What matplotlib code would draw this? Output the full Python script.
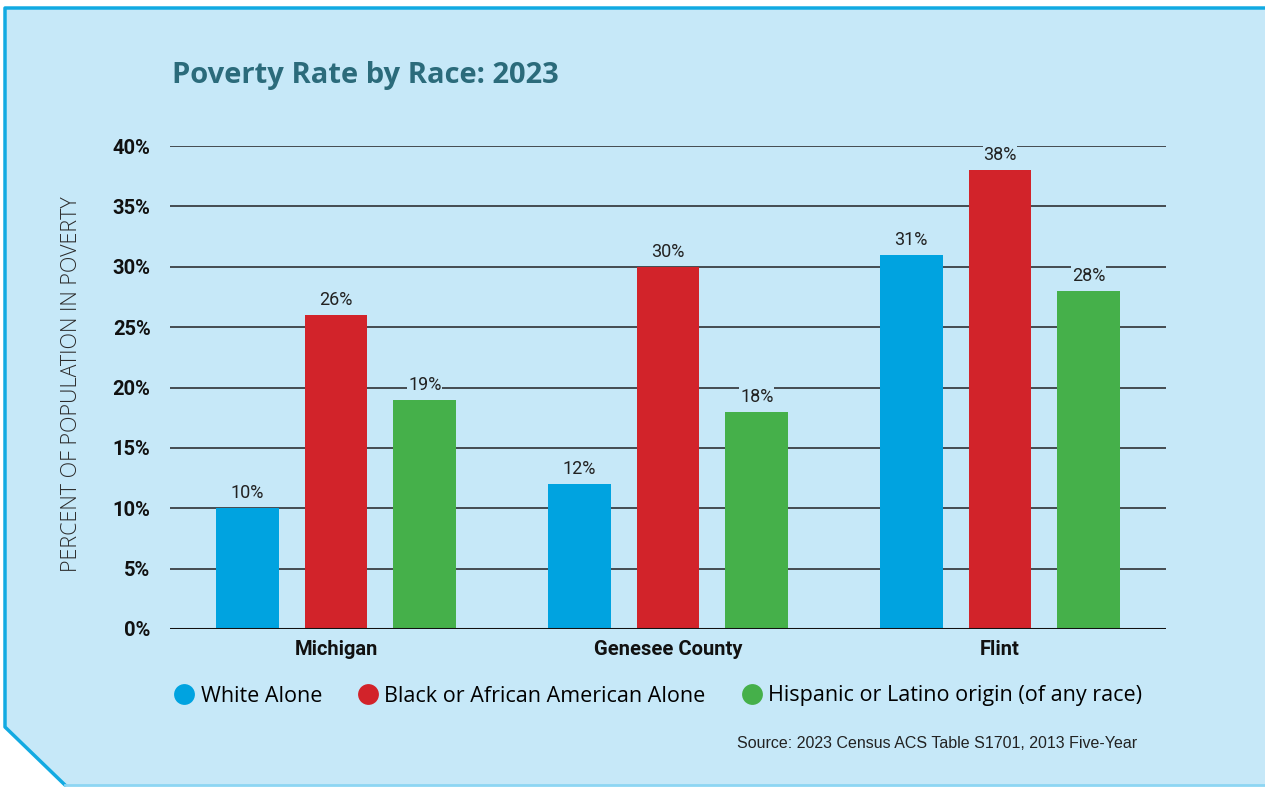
import matplotlib
matplotlib.use("Agg")
from matplotlib import pyplot as plt
from matplotlib.patches import Polygon
from matplotlib.lines import Line2D
import numpy as np

places = ["Michigan", "Genesee County", "Flint"]
races = ["White Alone", "Black or African American Alone",
         "Hispanic or Latino origin (of any race)"]
white = [10, 12, 31]
black = [26, 30, 38]
hispanic = [19, 18, 28]
yticks = [0, 5, 10, 15, 20, 25, 30, 35, 40]

colors = ["#00A3E0", "#D2232A", "#45B04A"]
panel_bg = "#C6E8F8"
cond = ["Roboto", "DejaVu Sans"]

W, H = 1265, 787
fig = plt.figure(figsize=(W / 100, H / 100), dpi=100)
fig.patch.set_facecolor("white")


def px(x, y):
    return (x / W, 1 - y / H)


# panel with chamfered bottom-left corner
pts = [px(5, 8), px(1270, 8), px(1270, 785), px(65, 785), px(5, 727)]
fig.patches.append(Polygon(pts, closed=True, transform=fig.transFigure,
                           facecolor=panel_bg, edgecolor="none", zorder=-5))
edge = [px(1270, 8), px(5, 8), px(5, 727), px(65, 785)]
fig.lines.append(Line2D([p[0] for p in edge], [p[1] for p in edge],
                        transform=fig.transFigure, color="#12AAE2", lw=2.5,
                        zorder=-4))
fig.lines.append(Line2D([px(65, 785)[0], 1], [px(65, 785)[1]] * 2,
                        transform=fig.transFigure, color="#8DD6F3", lw=2,
                        zorder=-4))

ax = fig.add_axes([170 / W, 1 - 629 / H, (1166 - 170) / W, (629 - 146) / H])
ax.set_facecolor("none")
ax.set_zorder(2)

x = np.arange(len(places))
off = 89 / 332.5
width = 63 / 332.5
series = [white, black, hispanic]
for i, vals in enumerate(series):
    xs = x + (i - 1) * off
    ax.bar(xs, vals, width=width, color=colors[i], zorder=2)
    for xx, v in zip(xs, vals):
        ax.text(xx, v + 0.5, f"{v}%", ha="center", va="bottom",
                fontsize=13, family=cond, color="#222222", zorder=4,
                bbox=dict(facecolor=panel_bg, edgecolor="none", pad=0.5))

ax.set_xlim(-0.5, 2.5)
ax.set_ylim(0, 40)
ax.set_yticks(yticks)
ax.set_yticklabels([f"{t}%" for t in yticks], family=cond,
                   fontweight="bold", fontsize=14.5, color="#111111")
for t in yticks[1:]:
    ax.axhline(t, color="#3a3f44", lw=1.3, zorder=1)
ax.axhline(0, color="#111111", lw=2.2, zorder=3)
ax.tick_params(axis="y", length=0, pad=14)
ax.tick_params(axis="x", length=0, pad=8)
ax.set_xticks(x)
ax.set_xticklabels(places, family=cond, fontweight="bold", fontsize=14.5,
                   color="#111111")
for s in ax.spines.values():
    s.set_visible(False)

fig.text(72 / W, 1 - 384 / H, "PERCENT OF POPULATION IN POVERTY",
         rotation=90, ha="center", va="center", fontsize=15.5,
         family="Open Sans", color="#2b2b2b", fontweight="light")

fig.text(172 / W, 1 - 75 / H, "Poverty Rate by Race: 2023", ha="left",
         va="center", fontsize=21, family="Open Sans", fontweight="bold",
         color="#2B6B7B")

# legend
handles = [Line2D([], [], marker="o", ls="none", markersize=15,
                  markerfacecolor=c, markeredgecolor="none") for c in colors]
fig.legend(handles, races, loc="center left",
           bbox_to_anchor=(150 / W, 1 - 696 / H), ncol=3, frameon=False,
           prop={"family": "Open Sans", "size": 15.5}, handletextpad=0.05,
           columnspacing=1.45, handlelength=1.4)

fig.text(1137 / W, 1 - 744 / H,
         "Source: 2023 Census ACS Table S1701, 2013 Five-Year",
         ha="right", va="center", fontsize=11.5, family="Liberation Sans",
         color="#222222")

fig.savefig("out.png", dpi=100, facecolor=fig.get_facecolor())
